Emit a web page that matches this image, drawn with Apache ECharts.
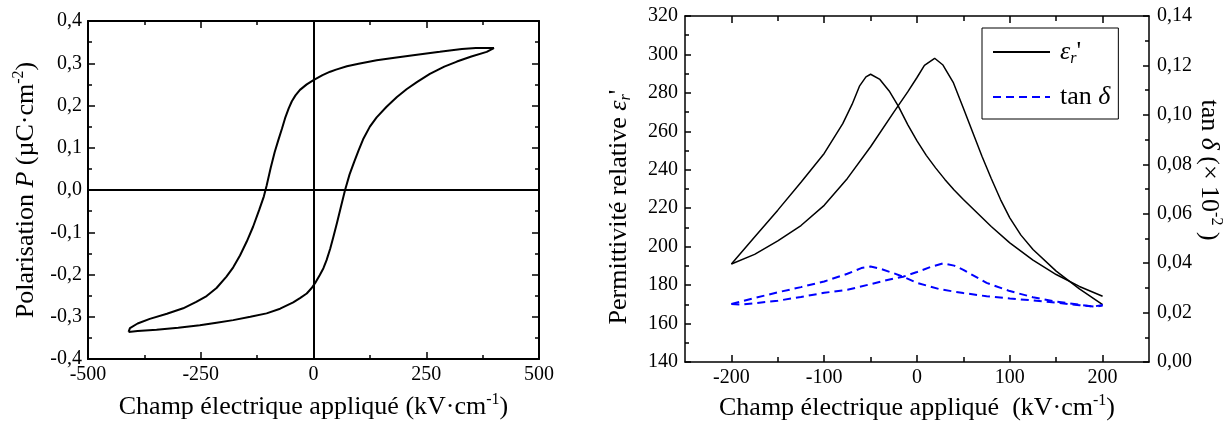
<!DOCTYPE html>
<html>
<head>
<meta charset="utf-8">
<script src="https://cdn.jsdelivr.net/npm/echarts@6/dist/echarts.min.js"></script>
<style>
html,body{margin:0;padding:0;background:#fff;}
#c{width:1228px;height:426px;}
</style>
</head>
<body>
<div id="c"></div>
<script>
// ---------- Left chart: hysteresis loop P(E) ----------
// rising branch (from negative saturation to positive)
const riseField = [-410,-390,-348,-300,-252,-215,-178,-140,-104,-74,-45,-30,-15,-4,5,14,22,29,37,44,52,60,70,80,90,100,110,125,140,162,185,207,230,258,290,318,350,384,400];
const risePol   = [-0.336,-0.334,-0.331,-0.326,-0.320,-0.314,-0.308,-0.300,-0.292,-0.281,-0.266,-0.256,-0.245,-0.232,-0.218,-0.201,-0.185,-0.166,-0.139,-0.111,-0.078,-0.043,0.000,0.037,0.066,0.094,0.120,0.150,0.172,0.197,0.220,0.239,0.256,0.275,0.292,0.304,0.316,0.327,0.336];
// falling branch (from positive saturation back to negative)
const fallField = [400,360,329,280,221,180,140,100,74,50,37,20,0,-15,-30,-40,-48,-55,-63,-70,-78,-86,-95,-104,-110,-120,-134,-148,-163,-178,-193,-215,-237,-260,-289,-325,-363,-390,-407,-410];
const fallPol   = [0.337,0.336,0.334,0.327,0.319,0.313,0.307,0.299,0.293,0.285,0.280,0.272,0.260,0.250,0.237,0.224,0.210,0.193,0.170,0.145,0.118,0.090,0.052,0.010,-0.015,-0.046,-0.087,-0.122,-0.155,-0.183,-0.205,-0.232,-0.251,-0.265,-0.280,-0.293,-0.305,-0.316,-0.327,-0.336];

// ---------- Right chart: permittivity and tan delta ----------
const epsAField = [-200,-175,-150,-125,-100,-80,-70,-62,-55,-50,-40,-30,-20,-10,0,10,20,30,40,50,65,80,100,125,150,175,200];
const epsAVal   = [191,205,219,233.5,248.5,264,274,283.5,288.3,289.7,287,281,273,263.5,255,247.5,241,235,229.5,224.5,217.5,210.5,202,193,185.5,179.3,174.2];
const epsBField = [-200,-175,-150,-125,-100,-75,-50,-25,-10,0,8,19,28,39,50,60,70,80,90,100,112,125,150,175,200];
const epsBVal   = [191,196,203,211,221.5,235.5,252,270,280.5,288,294.3,298,294.5,285.5,272,259.5,247,235.5,224.5,215,206,198.5,187.3,178,169.8];
const tanAField = [-200,-175,-150,-125,-100,-75,-60,-50,-40,-25,-15,0,25,50,75,100,125,150,175,193,200];
const tanAVal   = [0.0235,0.0259,0.0282,0.0303,0.0326,0.0357,0.0380,0.0386,0.0378,0.0359,0.0345,0.0320,0.0294,0.0279,0.0266,0.0257,0.0249,0.0240,0.0230,0.0224,0.0229];
const tanBField = [-200,-190,-175,-150,-125,-100,-75,-50,-25,-15,0,15,28,40,50,75,100,125,150,175,190,200];
const tanBVal   = [0.0235,0.0232,0.0238,0.0248,0.0263,0.0280,0.0292,0.0315,0.0338,0.0345,0.0364,0.0385,0.0399,0.0390,0.0373,0.0320,0.0287,0.0262,0.0244,0.0232,0.0224,0.0231];

// tick values / labels
const rightXMajor = [-200,-100,0,100,200];
const rightXMinor = [-150,-50,50,150];

const serif = 'Liberation Serif';
const pairs = (xs, ys) => xs.map((x, i) => [x, ys[i]]);
const richStyles = {
  t: {fontFamily: serif, fontSize: 26, lineHeight: 30, color: '#000'},
  i: {fontFamily: serif, fontSize: 26, lineHeight: 30, color: '#000', fontStyle: 'italic'},
  s: {fontFamily: serif, fontSize: 16, lineHeight: 16, color: '#000', verticalAlign: 'top'},
  b: {fontFamily: serif, fontSize: 16, lineHeight: 16, color: '#000', verticalAlign: 'bottom', fontStyle: 'italic'}
};
const nameStyle = (pad) => ({fontFamily: serif, fontSize: 26, color: '#000', rich: richStyles, padding: pad || 0});
const labelStyle = (extra) => Object.assign({fontFamily: serif, fontSize: 20, color: '#000'}, extra || {});
const comma = (d) => (v) => Number(v).toFixed(d).replace('.', ',');

function frame(common, lw, tickLen, minorLen) {
  return Object.assign({
    type: 'value',
    axisLine: {show: true, onZero: false, lineStyle: {color: '#000', width: lw}},
    axisTick: {show: true, inside: true, length: tickLen, lineStyle: {color: '#000', width: 1.5}},
    minorTick: {show: true, splitNumber: 2, length: minorLen, lineStyle: {color: '#000', width: 1.5}},
    splitLine: {show: false},
    minorSplitLine: {show: false},
    axisLabel: {show: false}
  }, common);
}

const chart = echarts.init(document.getElementById('c'), null, {renderer: 'canvas'});

const option = {
  backgroundColor: '#fff',
  animation: false,
  grid: [
    {left: 88, top: 21, width: 451, height: 338, outerBoundsMode: 'none'},
    {left: 685, top: 16, width: 464, height: 346, outerBoundsMode: 'none'}
  ],
  legend: {
    left: 982, top: 28, orient: 'vertical',
    data: ['eps', 'tan'],
    itemWidth: 57, itemHeight: 14, itemGap: 17,
    padding: [11, 8, 9, 10],
    borderColor: '#000', borderWidth: 1,
    selectedMode: false,
    itemStyle: {color: 'rgba(0,0,0,0)', borderWidth: 0, opacity: 0},
    formatter: (n) => n === 'eps' ? "{i|ε}{b|r}{t|'}" : '{t|tan }{i|δ}',
    textStyle: {fontFamily: serif, fontSize: 26, color: '#000', rich: richStyles, padding: [0, 0, 0, 5]}
  },
  xAxis: [
    frame({gridIndex: 0, position: 'bottom', min: -500, max: 500, interval: 250,
      axisLabel: labelStyle({show: true, margin: 6}),
      name: '{t|Champ électrique appliqué (kV·cm}{s|-1}{t|)}',
      nameLocation: 'middle', nameGap: 33, nameTextStyle: nameStyle()}, 2, 7, 4),
    frame({gridIndex: 0, position: 'top', min: -500, max: 500, interval: 250}, 2, 7, 4),
    frame({gridIndex: 1, position: 'bottom', min: -250, max: 250,
      axisTick: {show: true, inside: true, length: 7, customValues: rightXMajor, lineStyle: {color: '#000', width: 1.5}},
      minorTick: {show: false},
      axisLabel: labelStyle({show: true, margin: 6, customValues: rightXMajor}),
      name: '{t|Champ électrique appliqué  (kV·cm}{s|-1}{t|)}',
      nameLocation: 'middle', nameGap: 30, nameTextStyle: nameStyle()}, 1.5, 7, 4),
    frame({gridIndex: 1, position: 'bottom', min: -250, max: 250,
      axisLine: {show: false},
      axisTick: {show: true, inside: true, length: 5, customValues: rightXMinor, lineStyle: {color: '#000', width: 1.5}},
      minorTick: {show: false}}, 1.5, 5, 4),
    frame({gridIndex: 1, position: 'top', min: -250, max: 250,
      axisTick: {show: true, inside: true, length: 7, customValues: rightXMajor, lineStyle: {color: '#000', width: 1.5}},
      minorTick: {show: false}}, 1.5, 7, 4),
    frame({gridIndex: 1, position: 'top', min: -250, max: 250,
      axisLine: {show: false},
      axisTick: {show: true, inside: true, length: 5, customValues: rightXMinor, lineStyle: {color: '#000', width: 1.5}},
      minorTick: {show: false}}, 1.5, 5, 4)
  ],
  yAxis: [
    frame({gridIndex: 0, position: 'left', min: -0.4, max: 0.4, interval: 0.1,
      axisLabel: labelStyle({show: true, margin: 6, formatter: comma(1)}),
      name: '{t|Polarisation }{i|P}{t| (µC·cm}{s|-2}{t|)}',
      nameLocation: 'middle', nameRotate: 90, nameGap: 47, nameTextStyle: nameStyle()}, 2, 7, 4),
    frame({gridIndex: 0, position: 'right', min: -0.4, max: 0.4, interval: 0.1}, 2, 7, 4),
    frame({gridIndex: 1, position: 'left', min: 140, max: 320, interval: 20,
      axisLabel: labelStyle({show: true, margin: 7}),
      name: "{t|Permittivité relative }{i|ε}{b|r}{t|'}",
      nameLocation: 'middle', nameRotate: 90, nameGap: 51, nameTextStyle: nameStyle([0, 36, 0, 0])}, 1.5, 6, 4),
    frame({gridIndex: 1, position: 'right', min: 0, max: 0.14, interval: 0.02,
      axisLabel: labelStyle({show: true, margin: 8, formatter: comma(2)}),
      name: '{t|tan }{i|δ}{t| (× 10}{s|-2}{t| )}',
      nameLocation: 'middle', nameRotate: -90, nameGap: 36, nameTextStyle: nameStyle([0, 38, 0, 0])}, 1.5, 6, 4)
  ],
  series: [
    {
      type: 'line', name: 'loop', xAxisIndex: 0, yAxisIndex: 0,
      data: pairs(riseField, risePol).concat(pairs(fallField, fallPol)),
      symbol: 'none', lineStyle: {color: '#000', width: 2}, z: 3,
      markLine: {
        silent: true, symbol: ['none', 'none'], label: {show: false}, animation: false,
        lineStyle: {color: '#000', width: 2, type: 'solid'},
        data: [{xAxis: 0}, {yAxis: 0}]
      }
    },
    {type: 'line', name: 'eps', xAxisIndex: 2, yAxisIndex: 2, data: pairs(epsAField, epsAVal),
      symbol: 'none', lineStyle: {color: '#000', width: 1.5}, itemStyle: {color: '#000'}},
    {type: 'line', name: 'eps', xAxisIndex: 2, yAxisIndex: 2, data: pairs(epsBField, epsBVal),
      symbol: 'none', lineStyle: {color: '#000', width: 1.5}, itemStyle: {color: '#000'}},
    {type: 'line', name: 'tan', xAxisIndex: 2, yAxisIndex: 3, data: pairs(tanAField, tanAVal),
      symbol: 'none', lineStyle: {color: '#0000ff', width: 2, type: [8, 5]}, itemStyle: {color: '#0000ff'}},
    {type: 'line', name: 'tan', xAxisIndex: 2, yAxisIndex: 3, data: pairs(tanBField, tanBVal),
      symbol: 'none', lineStyle: {color: '#0000ff', width: 2, type: [8, 5]}, itemStyle: {color: '#0000ff'}}
  ]
};
chart.setOption(option);
</script>
</body>
</html>
